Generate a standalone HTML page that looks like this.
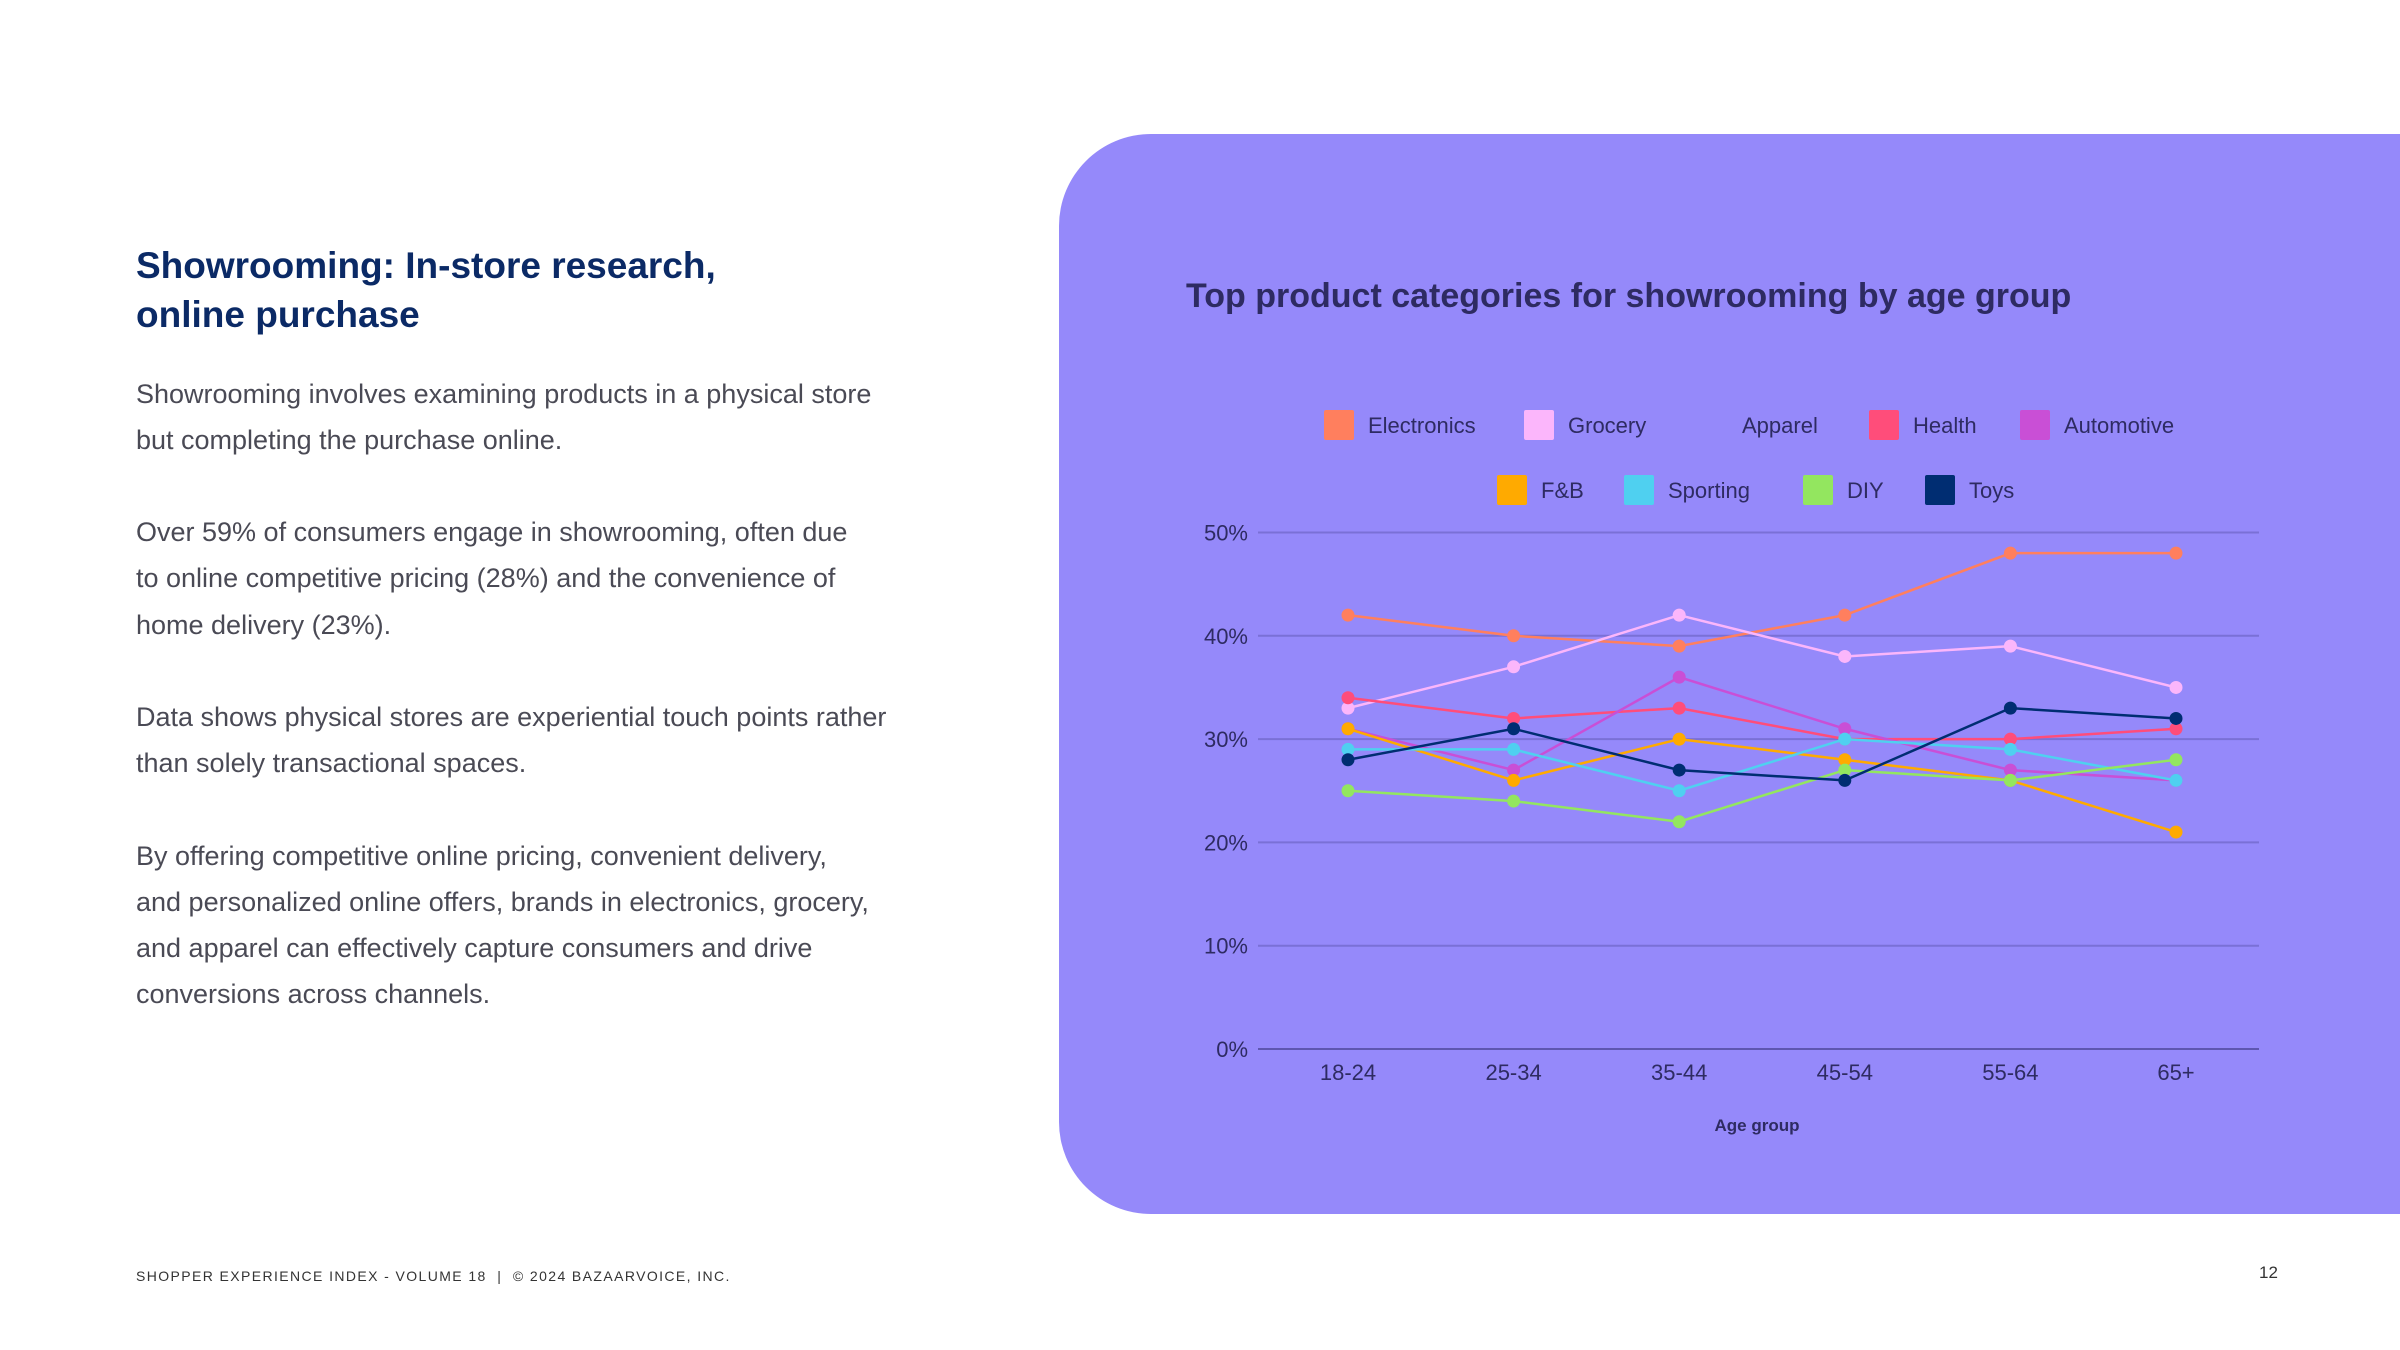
<!DOCTYPE html>
<html><head><meta charset="utf-8"><style>
body{margin:0;width:2400px;height:1350px;background:#fff;position:relative;overflow:hidden;font-family:"Liberation Sans",sans-serif}
.h{position:absolute;left:136px;color:#0b2a66;font-weight:bold;font-size:37px;white-space:nowrap}
.p{position:absolute;left:136px;color:#4a4a55;font-size:27px;white-space:nowrap}
#panel{position:absolute;left:1059px;top:134px;width:1400px;height:1080px;background:#9589fa;border-radius:92px 0 0 92px}
</style></head><body>
<div class="h" style="top:245px">Showrooming: In-store research,</div>
<div class="h" style="top:294px">online purchase</div>
<div>
<div class="p" style="top:379px">Showrooming involves examining products in a physical store</div>
<div class="p" style="top:425px">but completing the purchase online.</div>
<div class="p" style="top:517px">Over 59% of consumers engage in showrooming, often due</div>
<div class="p" style="top:563px">to online competitive pricing (28%) and the convenience of</div>
<div class="p" style="top:610px">home delivery (23%).</div>
<div class="p" style="top:702px">Data shows physical stores are experiential touch points rather</div>
<div class="p" style="top:748px">than solely transactional spaces.</div>
<div class="p" style="top:841px">By offering competitive online pricing, convenient delivery,</div>
<div class="p" style="top:887px">and personalized online offers, brands in electronics, grocery,</div>
<div class="p" style="top:933px">and apparel can effectively capture consumers and drive</div>
<div class="p" style="top:979px">conversions across channels.</div>
</div>
<div style="position:absolute;left:136px;top:1268px;font-size:14px;letter-spacing:1.4px;color:#333">SHOPPER EXPERIENCE INDEX - VOLUME 18 &nbsp;| &nbsp;© 2024 BAZAARVOICE, INC.</div>
<div style="position:absolute;left:2259px;top:1263px;font-size:17px;color:#333">12</div>
<div id="panel"></div>
<svg id="chart" width="2400" height="1350" style="position:absolute;left:0;top:0" font-family="Liberation Sans, sans-serif">
<text x="1186" y="307" font-size="34" font-weight="bold" fill="#2e2b62">Top product categories for showrooming by age group</text>
<text x="1757" y="1131" font-size="17" font-weight="bold" fill="#2e2b62" text-anchor="middle">Age group</text>
</svg>
<script>
const categories=["18-24","25-34","35-44","45-54","55-64","65+"];
const yTicks=[0,10,20,30,40,50];
const seriesNames=["Electronics","Grocery","Apparel","Health","Automotive","F&B","Sporting","DIY","Toys"];
const electronics=[42,40,39,42,48,48];
const grocery=[33,37,42,38,39,35];
const apparel=[];
const health=[34,32,33,30,30,31];
const automotive=[31,27,36,31,27,26];
const fnb=[31,26,30,28,26,21];
const sporting=[29,29,25,30,29,26];
const diy=[25,24,22,27,26,28];
const toys=[28,31,27,26,33,32];
const svg=document.getElementById('chart');
const NS='http://www.w3.org/2000/svg';
const colors=["#ff7f5e","#fbb6fb","#9589fa","#ff4d7a","#c94fd6","#ffaa00","#4fd0f0","#93e65f","#002d72"];
const data=[electronics,grocery,apparel,health,automotive,fnb,sporting,diy,toys];
const x0=1348,dx=165.6,yBase=1049,perPct=10.33;
const xs=i=>x0+i*dx, ys=v=>yBase-v*perPct;
function mk(tag,attrs){const e=document.createElementNS(NS,tag);for(const k in attrs)e.setAttribute(k,attrs[k]);svg.appendChild(e);return e;}
yTicks.forEach(t=>{
  const l=mk('line',{x1:1258,x2:2259,y1:ys(t),y2:ys(t),stroke:t===0?'#5e56b0':'#7a70d6','stroke-width':2});
  
  
  const tx=mk('text',{x:1248,y:ys(t)+8,'font-size':22,fill:'#2e2b62','text-anchor':'end'});
  tx.textContent=t+'%';
  
  
});
categories.forEach((c,i)=>{
  const tx=mk('text',{x:xs(i),y:1080,'font-size':22,fill:'#2e2b62','text-anchor':'middle'});
  tx.textContent=c;
  
  
});
data.forEach((s,k)=>{
  if(!s.length)return;
  const pl=mk('polyline',{points:s.map((v,i)=>xs(i)+','+ys(v)).join(' '),fill:'none',stroke:colors[k],'stroke-width':2.5});
  
  
  s.forEach((v,i)=>{
    const c=mk('circle',{cx:xs(i),cy:ys(v),r:6.5,fill:colors[k]});
    
    
  });
});
const legendPos=[[1324,425],[1524,425],[1698,425],[1869,425],[2020,425],[1497,490],[1624,490],[1803,490],[1925,490]];
seriesNames.forEach((n,k)=>{
  const [lx,ly]=legendPos[k];
  const r=mk('rect',{x:lx,y:ly-15,width:30,height:30,rx:2,fill:colors[k]});
  
  
  const t=mk('text',{x:lx+44,y:ly+8,'font-size':22,fill:'#2e2b62'});
  t.textContent=n;
  
  
});
</script>
</body></html>
